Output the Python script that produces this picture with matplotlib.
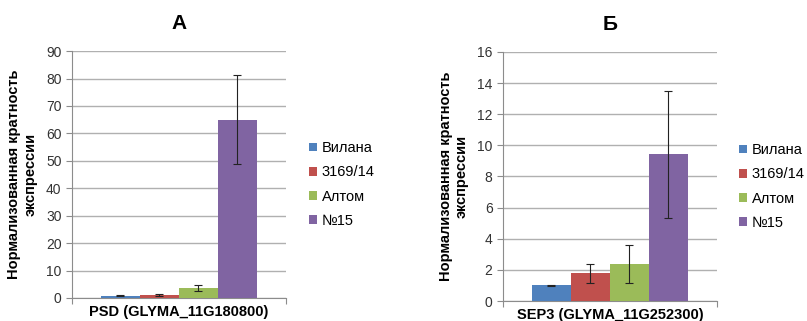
import numpy as np
import matplotlib.pyplot as plt

plt.rcParams['font.family'] = ['Liberation Sans', 'DejaVu Sans']

lines = ['Вилана', '3169/14', 'Алтом', '№15']
colors = ['#4F81BD', '#C0504D', '#9BBB59', '#8064A2']

psd_vals = [0.9, 1.1, 3.7, 65.0]
psd_err = [0.3, 0.2, 1.1, 16.2]
sep3_vals = [1.0, 1.78, 2.38, 9.42]
sep3_err = [0.03, 0.6, 1.2, 4.1]

panels = [
    ('А', 'PSD (GLYMA_11G180800)', psd_vals, psd_err, 90, 10,
     [0.0892, 0.0717, 0.265, 0.769], 1.075),
    ('Б', 'SEP3 (GLYMA_11G252300)', sep3_vals, sep3_err, 16, 2,
     [0.6233, 0.0623, 0.265, 0.776], 1.07),
]

fig = plt.figure(figsize=(8.07, 3.21), dpi=100)
grey = '#8c8c8c'
w = 0.73 / 4
for title, xlab, vals, errs, ymax, step, pos, legx in panels:
    ax = fig.add_axes(pos)
    xs = -0.365 + w / 2 + w * np.arange(4)
    for x, v, e, c, name in zip(xs, vals, errs, colors, lines):
        ax.bar(x, v, width=w, color=c, label=name, zorder=3)
        ax.errorbar(x, v, yerr=e, fmt='none', ecolor='#222222', elinewidth=0.8,
                    capsize=3, capthick=0.8, zorder=4)
    ax.set_xlim(-0.5, 0.5)
    ax.set_ylim(0, ymax)
    ax.set_yticks(np.arange(0, ymax + 1, step))
    ax.set_xticks([-0.5, 0.5])
    ax.set_xticklabels(['', ''])
    ax.tick_params(axis='x', length=4, color=grey)
    ax.tick_params(axis='y', length=4, color=grey, labelsize=10, labelcolor='#333333')
    ax.grid(axis='y', color='#b0b0b0', linewidth=1, zorder=0)
    for s in ['top', 'right']:
        ax.spines[s].set_visible(False)
    for s in ['left', 'bottom']:
        ax.spines[s].set_color(grey)
    ax.set_xlabel(xlab, fontsize=10.5, fontweight='bold', va='top')
    ax.xaxis.set_label_coords(0.5, -0.028)
    ax.set_ylabel('Нормализованная кратность\nэкспрессии', fontsize=10.5,
                  fontweight='bold', labelpad=6)
    ax.set_title(title, fontsize=15, fontweight='bold', pad=16)
    ax.legend(loc='center left', bbox_to_anchor=(legx, 0.46), frameon=False,
              fontsize=10.5, handlelength=0.55, handleheight=0.55, handletextpad=0.3,
              labelspacing=0.7, borderpad=0)

fig.savefig('out.png', dpi=100)
